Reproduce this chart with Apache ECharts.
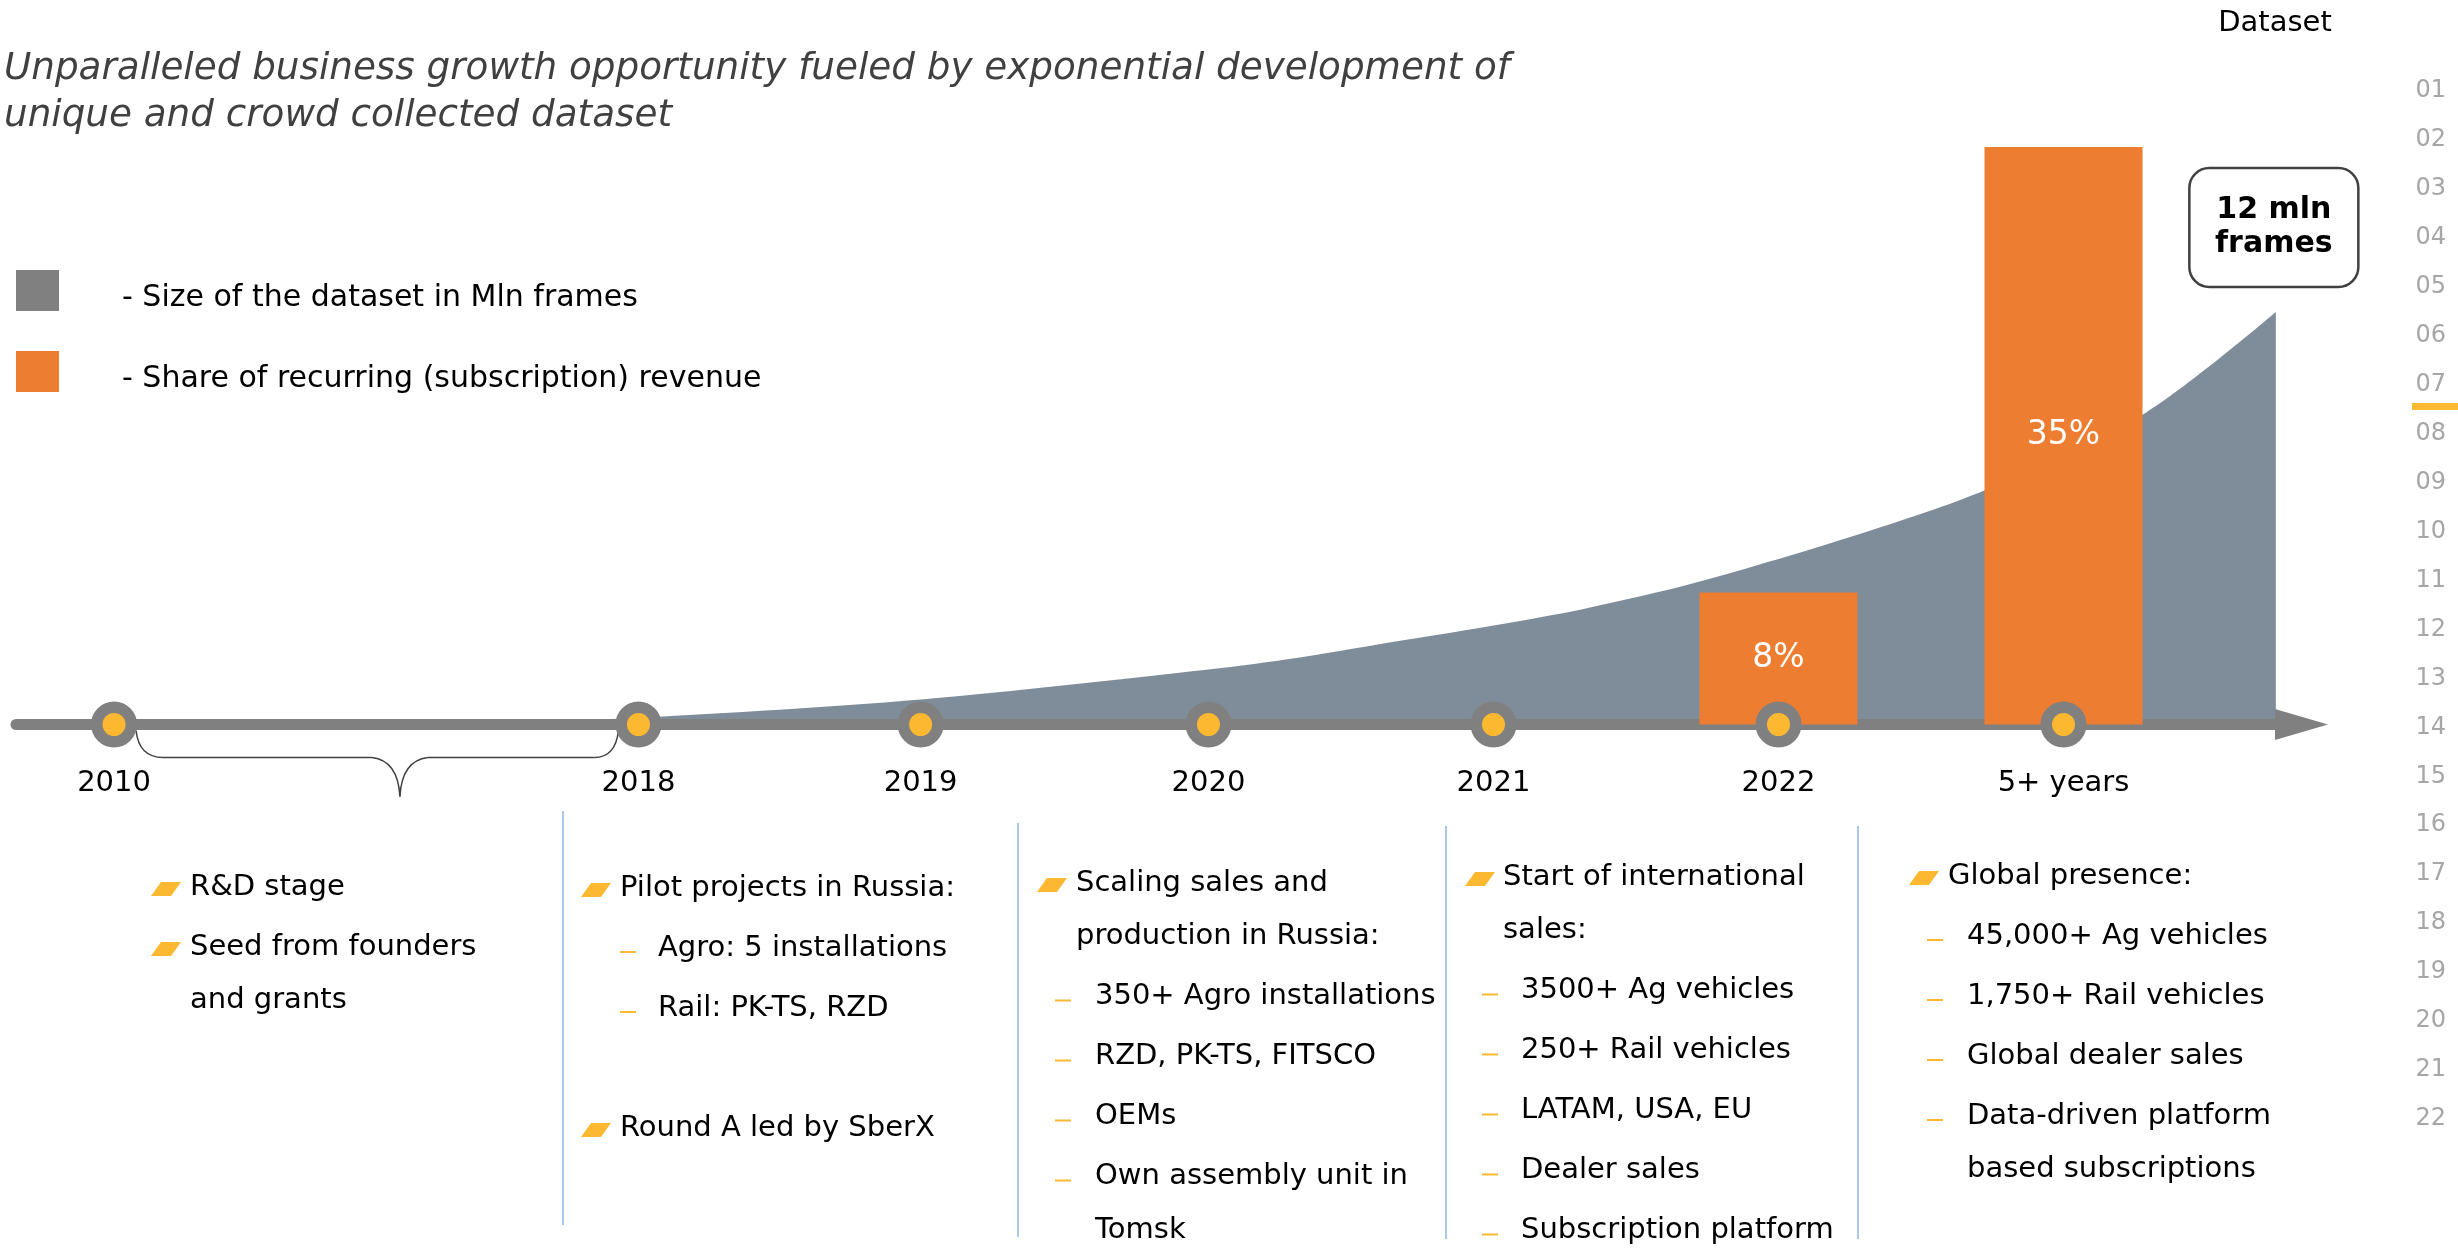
<!DOCTYPE html>
<html>
<head>
<meta charset="utf-8">
<title>Dataset growth timeline</title>
<script src="https://cdn.jsdelivr.net/npm/echarts@6/dist/echarts.min.js"></script>
<style>
    html, body { margin: 0; padding: 0; background: #fff; }
    #main { width: 2458px; height: 1253px; }
</style>
</head>
<body>
<div id="main"></div>
<script>
// timeline stops, position on the axis (1 unit = 1 year from 2018 on)
const stageLabels = ['2010', '2018', '2019', '2020', '2021', '2022', '5+ years'];
const stagePos = [0, 1.84, 2.83, 3.84, 4.84, 5.84, 6.84];

// size of the dataset, mln frames (read along the visible edge of the curve)
const datasetPos = [1.1, 1.84, 2.83, 3.84, 4.16, 4.54, 4.84, 5.16, 5.55, 6.13, 6.57, 7.13, 7.585];
const datasetMln = [0, 0.2, 0.73, 1.6, 1.95, 2.47, 2.88, 3.37, 4.13, 5.56, 6.84, 9.08, 12];

// share of recurring (subscription) revenue, %
const revenuePos = [5.84, 6.84];
const revenueShare = [8, 35];

// slide line numbers on the right
const sideNumbers = ['01', '02', '03', '04', '05', '06', '07', '08', '09', '10', '11',
    '12', '13', '14', '15', '16', '17', '18', '19', '20', '21', '22'];

// notes under the timeline: b = bullet, s = sub item, c = wrapped line, gap = empty row
const notes = [
    [['b', 'R&D stage'], ['b', 'Seed from founders'], ['c', 'and grants']],
    [['b', 'Pilot projects in Russia:'], ['s', 'Agro: 5 installations'], ['s', 'Rail: PK-TS, RZD'], ['gap', ''], ['b', 'Round A led by SberX']],
    [['b', 'Scaling sales and'], ['c', 'production in Russia:'], ['s', '350+ Agro installations'], ['s', 'RZD, PK-TS, FITSCO'], ['s', 'OEMs'], ['s', 'Own assembly unit in'], ['c', 'Tomsk']],
    [['b', 'Start of international'], ['c', 'sales:'], ['s', '3500+ Ag vehicles'], ['s', '250+ Rail vehicles'], ['s', 'LATAM, USA, EU'], ['s', 'Dealer sales'], ['s', 'Subscription platform']],
    [['b', 'Global presence:'], ['s', '45,000+ Ag vehicles'], ['s', '1,750+ Rail vehicles'], ['s', 'Global dealer sales'], ['s', 'Data-driven platform'], ['c', 'based subscriptions']]
];

// note column layout
const noteLayout = [
    {bulletX: 151, textX: 190, dashX: 190, subX: 228, top: 887},
    {bulletX: 581, textX: 620, dashX: 620, subX: 658, top: 888},
    {bulletX: 1037, textX: 1076, dashX: 1055, subX: 1095, top: 883},
    {bulletX: 1465, textX: 1503, dashX: 1482, subX: 1521, top: 877},
    {bulletX: 1909, textX: 1948, dashX: 1927, subX: 1967, top: 876}
];
const separators = [[563, 811, 1225], [1018, 823, 1237], [1446, 826, 1239], [1858, 826, 1239]];

const FONT = 'DejaVu Sans';
const GREY = '#808080';
const AREA = '#7F8D9B';
const ORANGE = '#ED7D31';
const YELLOW = '#FBB830';

// legend square sits in the top of a taller box, so the text lands a bit lower
const LEGEND_ICON = 'path://M0,0H43V41H0Z M0,57L0.01,57';

const chart = echarts.init(document.getElementById('main'));

const option = {
    backgroundColor: '#fff',
    animation: false,
    title: {
        text: 'Unparalleled business growth opportunity fueled by exponential development of\nunique and crowd collected dataset',
        left: 4,
        top: 46,
        padding: 0,
        textStyle: {
            fontFamily: FONT,
            fontSize: 37.3,
            fontStyle: 'italic',
            fontWeight: 'normal',
            color: '#404040',
            lineHeight: 47
        }
    },
    legend: {
        orient: 'vertical',
        left: 16,
        top: 270,
        padding: 0,
        itemWidth: 43,
        itemHeight: 57,
        itemGap: 24,
        icon: LEGEND_ICON,
        selectedMode: false,
        formatter: '- {name}',
        itemStyle: {borderWidth: 0},
        textStyle: {
            fontFamily: FONT,
            fontSize: 30,
            color: '#000',
            padding: [0, 0, 0, 58]
        },
        data: [
            {name: 'Size of the dataset in Mln frames', itemStyle: {color: GREY}},
            {name: 'Share of recurring (subscription) revenue', itemStyle: {color: ORANGE}}
        ]
    },
    grid: {
        left: 16,
        right: 156.5,
        top: 64.5,
        bottom: 528.5
    },
    xAxis: {
        type: 'value',
        min: -0.344,
        max: 7.675,
        z: 2,
        axisLine: {
            show: true,
            symbol: ['none', 'triangle'],
            symbolSize: [31, 53],
            lineStyle: {color: GREY, width: 11}
        },
        axisTick: {show: false},
        axisLabel: {show: false},
        splitLine: {show: false}
    },
    yAxis: [{
        type: 'value',
        min: 0,
        max: 19.2,
        show: false
    }, {
        type: 'value',
        min: 0,
        max: 40,
        show: false
    }],
    series: [{
        name: 'Size of the dataset in Mln frames',
        type: 'line',
        z: 1,
        yAxisIndex: 0,
        data: datasetPos.map((p, i) => [p, datasetMln[i]]),
        smooth: 0.3,
        showSymbol: false,
        lineStyle: {width: 0},
        itemStyle: {color: GREY},
        areaStyle: {color: AREA, opacity: 1}
    }, {
        name: 'Share of recurring (subscription) revenue',
        type: 'bar',
        z: 3,
        yAxisIndex: 1,
        barWidth: 158,
        data: revenuePos.map((p, i) => [p, revenueShare[i]]),
        itemStyle: {color: ORANGE},
        label: {
            show: true,
            position: 'inside',
            color: '#fff',
            fontFamily: FONT,
            fontSize: 33,
            formatter: p => p.value[1] + '%'
        }
    }, {
        name: 'stages',
        type: 'scatter',
        z: 4,
        yAxisIndex: 0,
        data: stagePos.map(p => [p, 0]),
        symbolSize: 34.5,
        itemStyle: {color: YELLOW, borderColor: GREY, borderWidth: 11.5, opacity: 1},
        label: {
            show: true,
            position: 'bottom',
            distance: 21,
            color: '#000',
            fontFamily: FONT,
            fontSize: 29,
            formatter: p => stageLabels[p.dataIndex]
        }
    }]
};

chart.setOption(option);

// decorations that depend on the axis scale
const toPx = v => chart.convertToPixel({xAxisIndex: 0, yAxisIndex: 0}, v);
const graphics = [];
const braceStyle = {fill: null, stroke: '#404040', lineWidth: 1.5};

// brace from 2010 to 2018
const a = toPx([stagePos[0], 0]);
const b = toPx([stagePos[1], 0]);
const x1 = a[0] + 22, x2 = b[0] - 20, tip = x1 + 0.547 * (x2 - x1);
const y0 = a[1] + 6, yh = a[1] + 33, yt = a[1] + 72;
[
    [x1, y0, x1 + 27, yh, x1 + 3, yh],
    [tip - 28, yh, tip, yt, tip - 2, yh + 3],
    [tip, yt, tip + 28, yh, tip + 2, yh + 3],
    [x2 - 24, yh, x2, y0, x2 - 3, yh]
].forEach(c => {
    graphics.push({
        type: 'bezierCurve',
        shape: {x1: c[0], y1: c[1], x2: c[2], y2: c[3], cpx1: c[4], cpy1: c[5]},
        style: braceStyle
    });
});
graphics.push({type: 'line', shape: {x1: x1 + 27, y1: yh, x2: tip - 28, y2: yh}, style: braceStyle});
graphics.push({type: 'line', shape: {x1: tip + 28, y1: yh, x2: x2 - 24, y2: yh}, style: braceStyle});

// callout above the end of the dataset curve
const endPt = toPx([datasetPos[datasetPos.length - 1], datasetMln[datasetMln.length - 1]]);
const boxW = 169, boxH = 119;
const boxCx = endPt[0] - 2, boxBottom = endPt[1] - 25;
graphics.push({
    type: 'rect',
    shape: {x: boxCx - boxW / 2, y: boxBottom - boxH, width: boxW, height: boxH, r: 20},
    style: {fill: '#fff', stroke: '#404040', lineWidth: 2.5}
});
graphics.push({
    type: 'text',
    x: boxCx,
    y: boxBottom - boxH / 2,
    style: {
        text: datasetMln[datasetMln.length - 1] + ' mln\nframes',
        fontFamily: FONT, fontSize: 30, fontWeight: 'bold', lineHeight: 34,
        fill: '#000', align: 'center', verticalAlign: 'middle'
    }
});

// "Dataset" heading and side numbers
graphics.push({
    type: 'text', x: 2275, y: 23,
    style: {text: 'Dataset', fontFamily: FONT, fontSize: 29, fill: '#000', align: 'center', verticalAlign: 'middle'}
});
sideNumbers.forEach((n, i) => {
    graphics.push({
        type: 'text', x: 2446, y: 91 + i * 48.95,
        style: {text: n, fontFamily: FONT, fontSize: 24, fill: '#A6A6A6', align: 'right', verticalAlign: 'middle'}
    });
});
graphics.push({type: 'rect', shape: {x: 2412, y: 403, width: 46, height: 7}, style: {fill: YELLOW}});

// column separators
separators.forEach(s => {
    graphics.push({
        type: 'line',
        shape: {x1: s[0], y1: s[1], x2: s[0], y2: s[2]},
        style: {stroke: '#8FB4E3', lineWidth: 1.5}
    });
});

// note columns
notes.forEach((lines, ci) => {
    const lay = noteLayout[ci];
    let y = lay.top;
    let lastX = lay.textX;
    lines.forEach((ln, li) => {
        const kind = ln[0];
        if (li > 0) y += (kind === 'c') ? 53.5 : 60;
        if (kind === 'gap') return;
        let x;
        if (kind === 'b') {
            x = lay.textX;
            const bx = lay.bulletX, by = y + 2;
            graphics.push({
                type: 'polygon',
                shape: {points: [[bx + 10, by - 7], [bx + 30, by - 7], [bx + 20, by + 7], [bx, by + 7]]},
                style: {fill: YELLOW}
            });
        } else if (kind === 's') {
            x = lay.subX;
            graphics.push({
                type: 'rect',
                shape: {x: lay.dashX, y: y + 3, width: 16, height: 2},
                style: {fill: YELLOW}
            });
        } else {
            x = lastX;
        }
        lastX = x;
        graphics.push({
            type: 'text', x: x, y: y,
            style: {text: ln[1], fontFamily: FONT, fontSize: 29, fill: '#000', verticalAlign: 'middle'}
        });
    });
});

chart.setOption({graphic: graphics});

window.onresize = function () {
    chart.resize();
};
</script>
</body>
</html>
